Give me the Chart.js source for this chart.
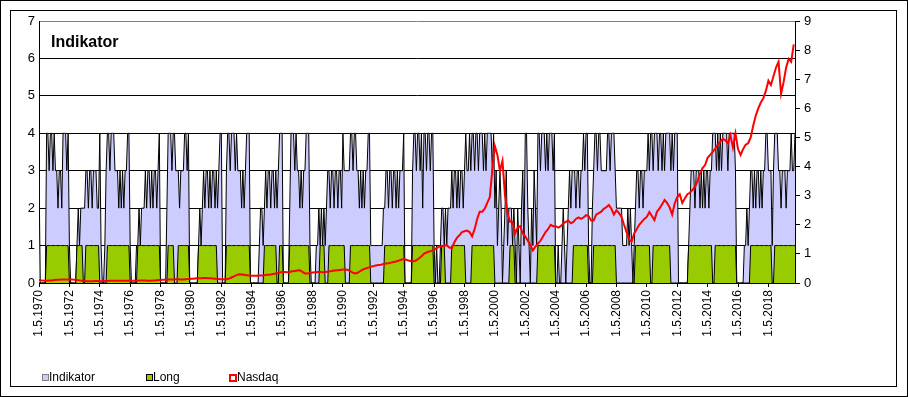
<!DOCTYPE html>
<html>
<head>
<meta charset="utf-8">
<title>Indikator</title>
<style>
  html, body { margin: 0; padding: 0; background: #fff; }
  #wrap { position: relative; width: 908px; height: 397px; font-family: 'Liberation Sans', Arial, sans-serif; color: #000; }
  #titel { position: absolute; left: 51px; top: 33px; font-size: 16px; line-height: 18px; font-weight: bold; }
  .leg { position: absolute; top: 370px; font-size: 12px; line-height: 14px; }
  .box { position: absolute; top: 374px; width: 5px; height: 5px; }
</style>
<script src="https://cdn.jsdelivr.net/npm/chart.js@4.4.1/dist/chart.umd.min.js"></script>
</head>
<body>
<div id="wrap">
  <canvas id="chart" width="908" height="397"></canvas>
  <div id="titel">Indikator</div>
  <div class="box" style="left:42px;background:#ccccff;border:1px solid #808080;"></div>
  <div class="leg" style="left:49px;">Indikator</div>
  <div class="box" style="left:146px;background:#99cc00;border:1px solid #000;"></div>
  <div class="leg" style="left:153px;">Long</div>
  <div class="box" style="left:229px;width:4px;height:4px;background:#fff;border:2px solid #ff0000;"></div>
  <div class="leg" style="left:237px;">Nasdaq</div>
</div>
<script>
// Monatswerte ab 1.5.1970, eine Zeile = 2 Jahre
const indikator = [
  3,0,0,0,0,0,4,4,3,4,4,3,4,3,3,2,3,3,2,4,4,4,3,4,
  1,0,0,0,0,0,1,2,1,2,2,2,2,3,3,2,3,3,2,3,3,3,2,2,
  4,1,0,0,1,3,4,4,3,4,4,4,3,3,3,2,3,2,3,2,3,3,4,4,
  1,0,0,0,0,1,1,2,1,2,2,2,3,2,3,3,2,3,2,3,3,2,3,4,
  0,0,0,0,0,2,4,4,4,3,4,4,3,3,3,2,3,3,3,4,4,3,4,0,
  0,0,0,0,0,0,1,2,1,2,3,2,3,3,2,3,2,3,3,2,3,2,3,4,
  4,0,0,0,3,4,4,3,4,4,4,3,4,3,3,3,2,3,2,3,4,4,4,0,
  0,0,0,0,0,0,1,2,2,1,2,3,2,3,3,2,3,3,2,3,2,3,4,4,
  4,0,0,0,0,0,2,4,4,4,3,4,3,3,2,3,2,3,3,4,4,4,1,0,
  0,0,0,1,1,2,1,2,1,2,1,2,3,3,2,3,3,2,3,3,2,3,3,2,
  4,3,3,3,3,3,4,4,3,4,4,3,3,2,3,2,3,2,3,3,4,4,1,1,
  1,1,1,1,1,1,1,1,2,2,3,3,2,3,3,2,3,3,2,3,2,3,3,3,
  4,0,0,0,0,0,0,3,4,4,3,4,4,3,4,2,4,4,3,4,4,3,4,4,
  1,0,1,0,0,1,2,2,1,2,1,2,2,2,3,2,3,3,2,3,2,3,3,2,
  3,4,3,3,4,3,4,4,3,4,4,3,4,4,4,3,4,3,4,4,4,4,3,4,
  2,3,1,2,3,2,0,1,2,3,1,2,2,2,1,2,1,0,2,1,0,2,3,1,
  4,4,2,1,0,2,1,3,2,1,4,4,3,4,4,4,3,4,3,4,4,4,3,4,
  0,0,1,0,0,1,2,1,0,1,2,3,2,3,3,3,2,3,3,2,3,3,4,3,
  4,4,1,0,0,2,3,4,4,3,4,4,3,3,3,3,3,4,4,3,4,4,4,3,
  2,2,2,2,2,1,1,1,1,2,1,2,1,0,1,2,3,3,2,3,3,2,3,3,
  3,4,3,4,4,3,4,4,4,3,4,4,3,4,3,4,4,4,4,3,4,3,4,4,
  4,0,0,0,0,0,0,0,0,1,2,3,3,3,2,3,3,3,2,3,2,3,2,3,
  3,2,3,3,4,4,4,3,4,3,4,3,4,4,4,4,3,4,4,4,4,4,3,0,
  0,0,0,0,0,1,1,2,1,2,3,3,2,3,2,3,3,2,3,2,3,3,4,4,
  3,3,3,1,3,4,4,4,3,3,2,3,3,3,2,3,3,3,4,3,3,4
]

const long = [
  0,0,0,0,0,0,1,1,1,1,1,1,1,1,1,1,1,1,1,1,1,1,1,1,
  0,0,0,0,0,0,1,1,1,1,1,0,0,1,1,1,1,1,1,1,1,1,1,1,
  0,0,0,0,0,0,1,1,1,1,1,1,1,1,1,1,1,1,1,1,1,1,1,1,
  0,0,0,0,0,0,1,1,1,1,1,1,1,1,1,1,1,1,1,1,1,1,1,1,
  0,0,0,0,0,0,1,1,1,1,1,0,0,0,1,1,1,1,1,1,1,1,1,0,
  0,0,0,0,0,0,1,1,1,1,1,1,1,1,1,1,1,1,1,1,1,0,0,0,
  0,0,0,0,1,1,1,1,1,1,1,1,1,1,1,1,1,1,1,1,1,1,1,0,
  0,0,0,0,0,0,0,0,0,0,1,1,1,1,1,1,1,1,1,1,0,0,1,1,
  1,0,0,0,0,0,1,1,1,1,1,1,1,1,1,1,1,1,1,1,1,1,0,0,
  0,0,0,0,0,0,1,1,1,1,0,0,0,1,1,1,1,1,1,1,1,1,1,1,
  1,1,0,0,0,0,1,1,1,1,1,1,1,1,1,1,1,1,1,1,1,1,0,0,
  0,0,0,0,0,0,0,0,0,1,1,1,1,1,1,1,1,1,1,1,1,1,1,1,
  1,0,0,0,0,0,0,1,1,1,1,1,1,1,1,1,1,1,1,1,1,1,1,1,
  0,0,0,0,0,0,1,1,1,0,0,0,0,0,1,1,1,1,1,1,1,1,1,1,
  1,0,0,0,0,0,1,1,1,1,1,1,1,1,1,1,1,1,1,1,1,1,1,1,
  0,0,0,0,0,0,0,0,0,0,0,0,1,1,1,1,0,0,0,0,0,0,0,0,
  0,0,0,0,0,0,0,0,0,0,1,1,1,1,1,1,1,1,1,1,1,1,1,1,
  0,0,0,0,0,0,0,0,0,0,0,0,0,0,1,1,1,1,1,1,1,1,1,1,
  1,1,0,0,0,0,1,1,1,1,1,1,1,1,1,1,1,1,1,1,1,1,1,1,
  0,0,0,0,0,0,0,0,0,0,0,0,0,0,0,1,1,1,1,1,1,1,1,1,
  1,1,1,0,0,1,1,1,1,1,1,1,1,1,1,1,1,1,1,0,0,0,0,0,
  0,0,0,0,0,0,0,0,0,1,1,1,1,1,1,1,1,1,1,1,1,1,1,1,
  1,1,1,1,0,0,1,1,1,1,1,1,1,1,1,1,1,1,1,1,1,1,1,0,
  0,0,0,0,0,0,0,0,0,0,1,1,1,1,1,1,1,1,1,1,1,1,1,1,
  1,1,1,0,0,1,1,1,1,1,1,1,1,1,1,1,1,1,1,1,1,1
]

// Nasdaq (rechte Achse), alle 2 Monate
const nasdaqSchritt = 2
const nasdaq = [
  0.10,0.09,0.08,0.08,0.09,0.09,0.10,0.11,0.11,0.12,0.12,0.12,0.12,
  0.12,0.11,0.10,0.09,0.08,0.07,0.06,0.06,0.06,0.07,0.07,0.06,0.06,
  0.07,0.07,0.08,0.08,0.08,0.08,0.08,0.08,0.08,0.08,0.08,0.08,
  0.08,0.08,0.09,0.09,0.09,0.08,0.08,0.09,0.09,0.10,0.10,0.11,0.11,
  0.12,0.12,0.12,0.13,0.13,0.12,0.12,0.13,0.14,0.15,0.15,0.16,
  0.16,0.16,0.17,0.17,0.16,0.16,0.15,0.15,0.14,0.13,0.13,0.13,
  0.15,0.19,0.23,0.27,0.30,0.29,0.28,0.27,0.26,0.25,0.25,0.25,
  0.26,0.26,0.27,0.28,0.28,0.30,0.32,0.34,0.36,0.38,0.38,0.37,
  0.38,0.40,0.41,0.43,0.44,0.38,0.33,0.33,0.34,0.36,0.37,0.38,
  0.38,0.37,0.38,0.39,0.40,0.42,0.43,0.44,0.45,0.46,0.46,0.45,
  0.40,0.35,0.33,0.36,0.42,0.47,0.50,0.53,0.56,0.58,0.60,0.62,
  0.63,0.65,0.67,0.68,0.70,0.72,0.74,0.77,0.80,0.82,0.80,0.77,
  0.75,0.75,0.78,0.84,0.92,1.00,1.05,1.08,1.10,1.15,1.20,1.25,
  1.25,1.28,1.30,1.22,1.20,1.40,1.55,1.64,1.75,1.78,1.80,1.75,
  1.60,1.85,2.20,2.45,2.45,2.55,2.75,2.95,3.90,4.70,4.40,
  3.85,4.20,3.00,2.40,2.10,2.10,1.70,1.90,1.95,1.70,1.60,1.45,
  1.30,1.12,1.25,1.35,1.45,1.60,1.75,1.85,2.00,1.95,1.95,1.90,
  1.95,2.05,2.10,2.15,2.05,2.10,2.20,2.25,2.20,2.25,2.33,2.30,
  2.15,2.15,2.35,2.40,2.45,2.55,2.60,2.68,2.55,2.35,2.50,2.40,
  2.27,2.00,1.75,1.50,1.42,1.70,1.85,2.00,2.10,2.20,2.27,2.44,
  2.30,2.16,2.45,2.56,2.70,2.85,2.75,2.60,2.35,2.73,2.95,3.05,
  2.75,2.90,3.05,3.10,3.20,3.30,3.50,3.76,3.95,4.05,4.30,4.40,
  4.50,4.62,4.75,4.85,4.95,4.90,4.80,5.08,4.65,5.14,4.60,4.40,
  4.60,4.75,4.80,5.00,5.40,5.75,6.00,6.20,6.35,6.60,6.95,6.80,
  7.10,7.40,7.60,6.50,6.90,7.40,7.70,7.60,8.20
]

const tickJahre = [1970, 1972, 1974, 1976, 1978, 1980, 1982, 1984, 1986, 1988, 1990, 1992,
  1994, 1996, 1998, 2000, 2002, 2004, 2006, 2008, 2010, 2012, 2014, 2016, 2018]

const schrift = "'Liberation Sans', Arial, sans-serif"
Chart.defaults.font.family = schrift
Chart.defaults.color = '#000'

// Rahmen wie im Excel-Diagramm
const rahmen = {
  id: 'rahmen',
  beforeDraw(chart) {
    const c = chart.ctx
    c.save()
    c.fillStyle = '#fff'
    c.fillRect(0, 0, chart.width, chart.height)
    c.restore()
  },
  afterDraw(chart) {
    const c = chart.ctx
    c.save()
    c.strokeStyle = '#000'
    c.lineWidth = 1
    c.strokeRect(0.5, 0.5, chart.width - 1, chart.height - 1)
    c.strokeRect(10.5, 10.5, 886, 376)
    c.restore()
  }
}

new Chart(document.getElementById('chart'), {
  type: 'line',
  data: {
    datasets: [
      {
        label: 'Nasdaq',
        data: nasdaq.map((v, i) => ({ x: i * nasdaqSchritt, y: v })),
        yAxisID: 'y2',
        borderColor: '#ff0000',
        borderWidth: 2,
        pointRadius: 0,
        fill: false,
        order: 0
      },
      {
        label: 'Long',
        data: long.map((v, i) => ({ x: i, y: v })),
        yAxisID: 'y',
        borderColor: '#000',
        borderWidth: 1,
        backgroundColor: '#99cc00',
        fill: 'origin',
        pointRadius: 0,
        order: 1
      },
      {
        label: 'Indikator',
        data: indikator.map((v, i) => ({ x: i, y: v })),
        yAxisID: 'y',
        borderColor: '#000',
        borderWidth: 1,
        backgroundColor: '#ccccff',
        fill: 'origin',
        pointRadius: 0,
        order: 2
      }
    ]
  },
  options: {
    responsive: false,
    animation: false,
    devicePixelRatio: 1,
    layout: { padding: { top: 21, left: 0, right: 0, bottom: 0 } },
    plugins: { legend: { display: false }, tooltip: { enabled: false } },
    scales: {
      x: {
        type: 'linear',
        min: 0,
        max: indikator.length - 1,
        afterBuildTicks: s => { s.ticks = tickJahre.map(j => ({ value: (j - 1970) * 12 })) },
        afterFit: s => { s.height = 114 },
        ticks: {
          autoSkip: false,
          minRotation: 90,
          maxRotation: 90,
          padding: 3,
          color: '#000',
          font: { size: 12 },
          callback: v => '1.5.' + (1970 + v / 12)
        },
        grid: { drawOnChartArea: false, color: '#000', tickLength: 4 },
        border: { color: '#000' }
      },
      y: {
        position: 'left',
        min: 0,
        max: 7,
        afterFit: s => { s.width = 39 },
        ticks: { stepSize: 1, padding: 4, color: '#000', font: { size: 13 } },
        grid: { color: c => (c.tick && c.tick.value === 7 ? '#808080' : '#000'), drawTicks: false },
        border: { color: '#000' }
      },
      y2: {
        position: 'right',
        min: 0,
        max: 9,
        afterFit: s => { s.width = 113 },
        ticks: { stepSize: 1, padding: 4, color: '#000', font: { size: 13 } },
        grid: { drawOnChartArea: false, color: '#000', tickLength: 5 },
        border: { color: '#000' }
      }
    }
  },
  plugins: [rahmen]
})
</script>
</body>
</html>
